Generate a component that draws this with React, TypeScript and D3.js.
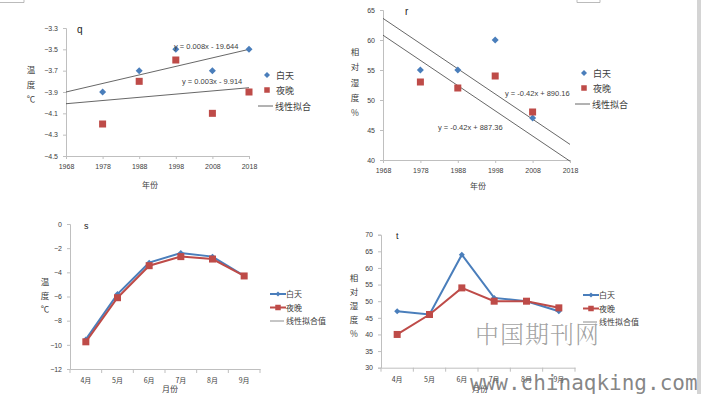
import { useEffect, useRef } from "react";
import * as d3 from "d3";

// ---- data ----
const years = [1978, 1988, 1998, 2008, 2018];
const qDay = [-3.9, -3.7, -3.5, -3.7, -3.5];
const qNight = [-4.2, -3.8, -3.6, -4.1, -3.9];
const qDayFit = [0.008, -19.644];
const qNightFit = [0.003, -9.914];
const qTicks = [-3.3, -3.5, -3.7, -3.9, -4.1, -4.3, -4.5];

const rYears = [1978, 1988, 1998, 2008];
const rDay = [55, 55, 60, 47];
const rNight = [53, 52, 54, 48];
const rDayFit = [-0.42, 890.16];
const rNightFit = [-0.42, 887.36];
const rTicks = [40, 45, 50, 55, 60, 65];

const yearTicks = [1968, 1978, 1988, 1998, 2008, 2018];

const months = ["4月", "5月", "6月", "7月", "8月", "9月"];
const sDay = [-9.55, -5.8, -3.2, -2.4, -2.7, -4.3];
const sNight = [-9.75, -6.1, -3.45, -2.7, -2.9, -4.3];
const sTicks = [0, -2, -4, -6, -8, -10, -12];

const tDay = [47, 46, 64, 51, 50, 47];
const tNight = [40, 46, 54, 50, 50, 48];
const tTicks = [30, 35, 40, 45, 50, 55, 60, 65, 70];

const BLUE = "#4a7ebb";
const RED = "#be4b48";
const AXIS = "#bfbfbf";
const TXT = "#404040";
const NUM_FONT = "Liberation Sans, Arial, sans-serif";
const CJK = "Noto Sans CJK SC, sans-serif";

const W = 701;
const H = 394;

type Sel = d3.Selection<SVGGElement, unknown, null, undefined>;

const diamond = (g: Sel, x: number, y: number, r: number) =>
  g.append("path")
    .attr("d", `M${x},${y - r}L${x + r},${y}L${x},${y + r}L${x - r},${y}Z`)
    .attr("fill", BLUE);

const square = (g: Sel, x: number, y: number, s: number) =>
  g.append("rect")
    .attr("x", x - s / 2).attr("y", y - s / 2)
    .attr("width", s).attr("height", s)
    .attr("fill", RED);

const vertLabel = (g: Sel, x: number, y0: number, chars: string[], step: number) => {
  chars.forEach((c, i) => {
    g.append("text")
      .attr("x", x).attr("y", y0 + i * step)
      .attr("text-anchor", "middle")
      .attr("font-family", CJK).attr("font-size", 8.5)
      .attr("fill", TXT)
      .text(c);
  });
};

const yAxis = (g: Sel, y: d3.ScaleLinear<number, number>, x0: number, ticks: number[], fmt: (v: number) => string) => {
  const ax = g.append("g").attr("transform", `translate(${x0},0)`)
    .call(d3.axisLeft(y).tickValues(ticks).tickSize(3).tickPadding(5).tickFormat((v) => fmt(v as number)));
  ax.select(".domain").attr("stroke", AXIS);
  ax.selectAll(".tick line").attr("stroke", AXIS);
  ax.selectAll("text").attr("font-family", NUM_FONT).attr("font-size", 7).attr("fill", TXT);
};

const scatterPanel = (
  g: Sel,
  opts: {
    x0: number; x1: number; yTop: number; yBot: number;
    dom: [number, number]; ticks: number[]; fmt: (v: number) => string;
    xs: number[]; day: number[]; night: number[];
    dayFit: number[]; nightFit: number[];
    dayEq: [string, number, number]; nightEq: [string, number, number];
    letter: [string, number, number];
    ylab: string[]; ylabX: number; ylabY: number; ylabStep: number;
    legX: number; legY: number; xlab: [number, number];
  }
) => {
  const x = d3.scaleLinear().domain([1968, 2018]).range([opts.x0, opts.x1]);
  const y = d3.scaleLinear().domain(opts.dom).range([opts.yBot, opts.yTop]);
  yAxis(g, y, opts.x0, opts.ticks, opts.fmt);
  const xa = g.append("g").attr("transform", `translate(0,${opts.yBot})`)
    .call(d3.axisBottom(x).tickValues(yearTicks).tickSize(3).tickPadding(5).tickFormat(d3.format("d")));
  xa.select(".domain").attr("stroke", AXIS);
  xa.selectAll(".tick line").attr("stroke", AXIS);
  xa.selectAll("text").attr("font-family", NUM_FONT).attr("font-size", 7).attr("fill", TXT);

  const fitLine = d3.line<number>().x((d) => x(d)).y((d) => y(d));
  [opts.dayFit, opts.nightFit].forEach((f) => {
    g.append("path")
      .attr("d", fitLine([1968, 2018].map((v) => v)).toString())
      .attr("d", d3.line<number>().x((d) => x(d)).y((d) => y(f[0] * d + f[1]))([1968, 2018]))
      .attr("fill", "none").attr("stroke", "#404040").attr("stroke-width", 0.8);
  });

  opts.xs.forEach((yr, i) => diamond(g, x(yr), y(opts.day[i]), 3.5));
  opts.xs.forEach((yr, i) => square(g, x(yr), y(opts.night[i]), 7));

  [opts.dayEq, opts.nightEq].forEach(([t, tx, ty]) => {
    g.append("text").attr("x", tx).attr("y", ty)
      .attr("font-family", NUM_FONT).attr("font-size", 7.5).attr("fill", TXT).text(t);
  });

  g.append("text").attr("x", opts.letter[1]).attr("y", opts.letter[2])
    .attr("font-family", NUM_FONT).attr("font-size", 10).attr("fill", "#222").text(opts.letter[0]);

  vertLabel(g, opts.ylabX, opts.ylabY, opts.ylab, opts.ylabStep);
  g.append("text").attr("x", opts.xlab[0]).attr("y", opts.xlab[1]).attr("text-anchor", "middle")
    .attr("font-family", CJK).attr("font-size", 8).attr("fill", TXT).text("年份");

  // legend
  const lg = g.append("g");
  diamond(lg, opts.legX + 3, opts.legY, 3);
  lg.append("text").attr("x", opts.legX + 12).attr("y", opts.legY + 3.5)
    .attr("font-family", CJK).attr("font-size", 9).attr("fill", TXT).text("白天");
  square(lg, opts.legX + 3, opts.legY + 15, 5.5);
  lg.append("text").attr("x", opts.legX + 12).attr("y", opts.legY + 18.5)
    .attr("font-family", CJK).attr("font-size", 9).attr("fill", TXT).text("夜晚");
  lg.append("line").attr("x1", opts.legX - 6).attr("x2", opts.legX + 9)
    .attr("y1", opts.legY + 31).attr("y2", opts.legY + 31).attr("stroke", "#404040").attr("stroke-width", 0.8);
  lg.append("text").attr("x", opts.legX + 11).attr("y", opts.legY + 34.5)
    .attr("font-family", CJK).attr("font-size", 9).attr("fill", TXT).text("线性拟合");
};

const linePanel = (
  g: Sel,
  opts: {
    x0: number; x1: number; yTop: number; yBot: number;
    dom: [number, number]; ticks: number[];
    day: number[]; night: number[];
    letter: [string, number, number];
    ylab: string[]; ylabX: number; ylabY: number; ylabStep: number;
    legX: number; legY: number; xlab: [number, number];
  }
) => {
  const x = d3.scaleBand<string>().domain(months).range([opts.x0, opts.x1]);
  const y = d3.scaleLinear().domain(opts.dom).range([opts.yBot, opts.yTop]);
  yAxis(g, y, opts.x0, opts.ticks, d3.format("d"));

  const xa = g.append("g").attr("transform", `translate(0,${opts.yBot})`)
    .call(d3.axisBottom(x).tickSize(0).tickPadding(9));
  xa.select(".domain").attr("stroke", AXIS);
  xa.selectAll("text").attr("font-family", CJK).attr("font-size", 7).attr("fill", TXT);
  [...months.map((m) => x(m) as number), opts.x1].forEach((bx) => {
    xa.append("line").attr("x1", bx).attr("x2", bx).attr("y1", 0).attr("y2", 4).attr("stroke", AXIS);
  });

  const cx = (m: string) => (x(m) as number) + x.bandwidth() / 2;
  const line = d3.line<number>().x((_, i) => cx(months[i])).y((d) => y(d));
  g.append("path").attr("d", line(opts.day)).attr("fill", "none").attr("stroke", BLUE).attr("stroke-width", 2);
  opts.day.forEach((v, i) => diamond(g, cx(months[i]), y(v), 3));
  g.append("path").attr("d", line(opts.night)).attr("fill", "none").attr("stroke", RED).attr("stroke-width", 2);
  opts.night.forEach((v, i) => square(g, cx(months[i]), y(v), 7));

  g.append("text").attr("x", opts.letter[1]).attr("y", opts.letter[2])
    .attr("font-family", NUM_FONT).attr("font-size", 9).attr("fill", "#222").text(opts.letter[0]);
  vertLabel(g, opts.ylabX, opts.ylabY, opts.ylab, opts.ylabStep);
  g.append("text").attr("x", opts.xlab[0]).attr("y", opts.xlab[1]).attr("text-anchor", "middle")
    .attr("font-family", CJK).attr("font-size", 8).attr("fill", TXT).text("月份");

  const lg = g.append("g");
  const lx = opts.legX;
  const ly = opts.legY;
  lg.append("line").attr("x1", lx).attr("x2", lx + 16).attr("y1", ly).attr("y2", ly).attr("stroke", BLUE).attr("stroke-width", 2);
  diamond(lg, lx + 8, ly, 2.5);
  lg.append("text").attr("x", lx + 16).attr("y", ly + 3).attr("font-family", CJK).attr("font-size", 8).attr("fill", TXT).text("白天");
  lg.append("line").attr("x1", lx).attr("x2", lx + 16).attr("y1", ly + 13.5).attr("y2", ly + 13.5).attr("stroke", RED).attr("stroke-width", 2);
  square(lg, lx + 8, ly + 13.5, 5.5);
  lg.append("text").attr("x", lx + 16).attr("y", ly + 16.5).attr("font-family", CJK).attr("font-size", 8).attr("fill", TXT).text("夜晚");
  lg.append("line").attr("x1", lx).attr("x2", lx + 14).attr("y1", ly + 27).attr("y2", ly + 27).attr("stroke", "#8c8c8c").attr("stroke-width", 1);
  lg.append("text").attr("x", lx + 16).attr("y", ly + 30).attr("font-family", CJK).attr("font-size", 8).attr("fill", TXT).text("线性拟合值");
};

const App = () => {
  const svgRef = useRef<SVGSVGElement>(null);

  useEffect(() => {
    if (!svgRef.current) return;
    const svg = d3.select(svgRef.current);
    svg.selectAll("*").remove();
    const root = svg.append("g") as unknown as Sel;

    root.append("rect").attr("width", W).attr("height", H).attr("fill", "#fff");

    // stray screenshot frame bits
    root.append("path").attr("d", "M0,2.5H24V0").attr("fill", "none").attr("stroke", "#aaa").attr("stroke-width", 0.8);
    root.append("path").attr("d", "M577,0V2.5H600V0").attr("fill", "none").attr("stroke", "#aaa").attr("stroke-width", 0.8);
    root.append("rect").attr("x", 697).attr("y", 0).attr("width", 4).attr("height", H).attr("fill", "#d4d4d4");

    scatterPanel(root.append("g") as unknown as Sel, {
      x0: 66, x1: 249, yTop: 28, yBot: 156,
      dom: [-4.5, -3.3], ticks: qTicks, fmt: d3.format(".1f"),
      xs: years, day: qDay, night: qNight,
      dayFit: qDayFit, nightFit: qNightFit,
      dayEq: ["y = 0.008x - 19.644", 174, 49], nightEq: ["y = 0.003x - 9.914", 182, 84],
      letter: ["q", 77, 33],
      ylab: ["温", "度", "℃"], ylabX: 31, ylabY: 73, ylabStep: 14.5,
      legX: 264, legY: 75, xlab: [150, 188],
    });

    scatterPanel(root.append("g") as unknown as Sel, {
      x0: 383, x1: 570, yTop: 10, yBot: 160,
      dom: [40, 65], ticks: rTicks, fmt: d3.format("d"),
      xs: rYears, day: rDay, night: rNight,
      dayFit: rDayFit, nightFit: rNightFit,
      dayEq: ["y = -0.42x + 890.16", 505, 96], nightEq: ["y = -0.42x + 887.36", 438, 130],
      letter: ["r", 405, 15],
      ylab: ["相", "对", "湿", "度", "%"], ylabX: 355, ylabY: 55, ylabStep: 15.3,
      legX: 581, legY: 73, xlab: [478, 189],
    });

    linePanel(root.append("g") as unknown as Sel, {
      x0: 70, x1: 260, yTop: 224, yBot: 369,
      dom: [-12, 0], ticks: sTicks,
      day: sDay, night: sNight,
      letter: ["s", 84, 229],
      ylab: ["温", "度", "℃"], ylabX: 45, ylabY: 285, ylabStep: 13.5,
      legX: 270, legY: 294, xlab: [170, 392],
    });

    linePanel(root.append("g") as unknown as Sel, {
      x0: 381, x1: 575, yTop: 234.7, yBot: 367.7,
      dom: [30, 70], ticks: tTicks,
      day: tDay, night: tNight,
      letter: ["t", 396, 239],
      ylab: ["相", "对", "湿", "度", "%"], ylabX: 354, ylabY: 281, ylabStep: 14,
      legX: 583, legY: 295, xlab: [480, 392],
    });

    // watermark
    root.append("text").attr("x", 475).attr("y", 343)
      .attr("font-family", "Noto Serif CJK SC, Noto Sans CJK SC, serif").attr("font-weight", 300)
      .attr("font-size", 24).attr("letter-spacing", 1).attr("fill", "#8a8a8a").attr("fill-opacity", 0.8)
      .text("中国期刊网");
    root.append("text").attr("x", 470).attr("y", 390)
      .attr("font-family", "DejaVu Sans Mono, monospace")
      .attr("font-size", 21).attr("fill", "#707070").attr("fill-opacity", 0.85)
      .text("www.chinaqking.com");
  }, []);

  return (
    <div style={{ position: "absolute", left: 0, top: 0, width: W, height: H, overflow: "hidden", background: "#fff" }}>
      <svg ref={svgRef} width={W} height={H} viewBox={`0 0 ${W} ${H}`} />
    </div>
  );
};

export default App;
